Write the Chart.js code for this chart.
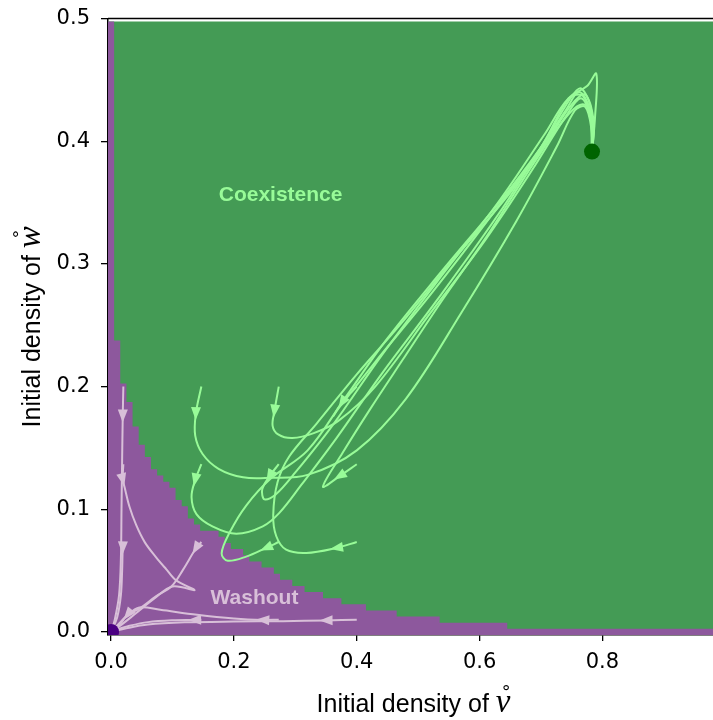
<!DOCTYPE html>
<html>
<head>
<meta charset="utf-8">
<script src="https://cdn.jsdelivr.net/npm/chart.js@4.4.1/dist/chart.umd.min.js"></script>
<style>
  html, body { margin: 0; padding: 0; background: #fff; }
</style>
</head>
<body>
<canvas id="phaseChart" width="713" height="720"></canvas>
<script>
// Axes
const vTicks = [0, 0.2, 0.4, 0.6, 0.8];
const wTicks = [0, 0.1, 0.2, 0.3, 0.4, 0.5];
const vRange = [-0.005, 0.98];
const wRange = [-0.0025, 0.5];

// Outcome grid: left edge of each washout step and its top
const meshTop = 0.4975;
const meshRight = 0.99;
const washoutEdgeV = [-0.005, 0.005, 0.015, 0.025, 0.035, 0.045, 0.055, 0.065, 0.075, 0.085, 0.095, 0.105, 0.115, 0.125, 0.135, 0.145, 0.175, 0.185, 0.195, 0.215, 0.225, 0.245, 0.265, 0.275, 0.295, 0.315, 0.345, 0.375, 0.415, 0.465, 0.535, 0.645, 0.99];
const washoutTopW = [0.4975, 0.2375, 0.2025, 0.1875, 0.1675, 0.1525, 0.1425, 0.1325, 0.1275, 0.1225, 0.1175, 0.1075, 0.1025, 0.0925, 0.0875, 0.0825, 0.0775, 0.0725, 0.0675, 0.0625, 0.0575, 0.0525, 0.0475, 0.0425, 0.0375, 0.0325, 0.0275, 0.0225, 0.0175, 0.0125, 0.0075, 0.0025, 0.0025];

// Trajectories ending in coexistence
const coexA = [[0.147,0.2],[0.138,0.178],[0.137,0.16],[0.149,0.145],[0.175,0.133],[0.215,0.126],[0.258,0.1256],[0.32,0.128],[0.4,0.148],[0.48,0.19],[0.57,0.26],[0.66,0.335],[0.725,0.395],[0.755,0.425],[0.772,0.428],[0.782,0.41],[0.783,0.3915]];
const coexB = [[0.273,0.2],[0.266,0.18],[0.263,0.168],[0.272,0.161],[0.295,0.158],[0.33,0.162],[0.37,0.172],[0.43,0.2],[0.52,0.26],[0.61,0.32],[0.69,0.38],[0.74,0.42],[0.765,0.435],[0.78,0.42],[0.783,0.3915]];
const coexH = [[0.4,0.2],[0.376,0.187],[0.362,0.176],[0.37,0.182],[0.43,0.22],[0.52,0.275],[0.62,0.34],[0.7,0.395],[0.745,0.435],[0.775,0.445],[0.79,0.455],[0.788,0.42],[0.783,0.3915]];
const coexC = [[0.147,0.1367],[0.137,0.124],[0.131,0.11],[0.139,0.096],[0.165,0.086],[0.204,0.08],[0.247,0.086],[0.274,0.097],[0.31,0.12],[0.367,0.158],[0.44,0.21],[0.53,0.27],[0.63,0.34],[0.7,0.395],[0.748,0.435],[0.765,0.443],[0.782,0.425],[0.783,0.3915]];
const coexG = [[0.273,0.1367],[0.258,0.127],[0.246,0.116],[0.25,0.108],[0.268,0.112],[0.3,0.13],[0.36,0.168],[0.44,0.225],[0.53,0.285],[0.63,0.35],[0.705,0.405],[0.745,0.435],[0.768,0.437],[0.781,0.418],[0.783,0.3915]];
const coexD = [[0.4,0.1367],[0.372,0.127],[0.345,0.1185],[0.377,0.146],[0.421,0.181],[0.475,0.222],[0.54,0.271],[0.611,0.322],[0.692,0.385],[0.745,0.422],[0.77,0.43],[0.784,0.415],[0.783,0.3915]];
const coexF = [[0.273,0.0733],[0.2525,0.0685],[0.22,0.0614],[0.19,0.058],[0.18,0.064],[0.193,0.081],[0.22,0.103],[0.26,0.125],[0.32,0.148],[0.38,0.19],[0.448,0.238],[0.54,0.295],[0.635,0.352],[0.7,0.395],[0.74,0.425],[0.762,0.44],[0.78,0.425],[0.783,0.3915]];
const coexE = [[0.4,0.0733],[0.367,0.0685],[0.318,0.0644],[0.285,0.067],[0.269,0.078],[0.264,0.095],[0.271,0.122],[0.29,0.143],[0.335,0.17],[0.4,0.21],[0.47,0.25],[0.56,0.305],[0.645,0.355],[0.71,0.4],[0.75,0.43],[0.772,0.438],[0.786,0.415],[0.783,0.3915]];

// Trajectories ending in washout
const washA = [[0.02,0.2],[0.019,0.176],[0.018,0.14],[0.017,0.1],[0.016,0.06],[0.013,0.03],[0.006,0.01],[0,0]];
const washB = [[0.02,0.1367],[0.019,0.124],[0.022,0.118],[0.03,0.102],[0.041,0.087],[0.055,0.073],[0.073,0.061],[0.09,0.051],[0.106,0.042],[0.136,0.034],[0.1,0.037],[0.07,0.027],[0.04,0.015],[0.012,0.004],[0,0]];
const washC = [[0.02,0.0733],[0.019,0.0685],[0.018,0.05],[0.016,0.03],[0.01,0.012],[0,0]];
const washD = [[0.02,0.01],[0.012,0.006],[0,0]];
const washE = [[0.147,0.0733],[0.138,0.068],[0.117,0.0506],[0.098,0.037],[0.073,0.029],[0.046,0.019],[0.027,0.014],[0.0135,0.0057],[0,0]];
const washF = [[0.147,0.01],[0.136,0.0098],[0.1,0.0095],[0.06,0.008],[0.03,0.005],[0.01,0.002],[0,0]];
const washG = [[0.273,0.01],[0.247,0.0098],[0.2,0.011],[0.14,0.014],[0.08,0.018],[0.046,0.02],[0.025,0.013],[0.008,0.004],[0,0]];
const washH = [[0.4,0.01],[0.35,0.0094],[0.28,0.0088],[0.2,0.0085],[0.12,0.0078],[0.06,0.006],[0.025,0.003],[0,0]];

// Steady states
const coexPoint = [0.783, 0.3915];
const washPoint = [0, 0];

// Region labels
const regionNames = ['Coexistence', 'Washout'];
const regionV = [0.276, 0.2335];
const regionW = [0.356, 0.0277];

const GREEN_BG = '#449b55';
const PURPLE_BG = '#8d589d';
const GREEN_LINE = '#98fb98';
const PINK_LINE = '#d8bfd8';

const toXY = path => path.map(p => ({ x: p[0], y: p[1] }));

function pathDataset(path, color, arrowAt) {
  return {
    data: toXY(path), borderColor: color, borderWidth: 2, tension: 0.35,
    pointRadius: 0, fill: false, order: 5, arrowAt: arrowAt
  };
}

const datasets = [
  { data: [{ x: vRange[0], y: meshTop }, { x: meshRight, y: meshTop }], borderWidth: 0,
    backgroundColor: GREEN_BG, fill: 'start', pointRadius: 0, order: 20 },
  { data: washoutEdgeV.map((v, i) => ({ x: v, y: washoutTopW[i] })), stepped: true, borderWidth: 0,
    backgroundColor: PURPLE_BG, fill: 'start', pointRadius: 0, order: 10 },
  pathDataset(coexA, GREEN_LINE, [1]),
  pathDataset(coexB, GREEN_LINE, [1]),
  pathDataset(coexH, GREEN_LINE, [1]),
  pathDataset(coexC, GREEN_LINE, [1]),
  pathDataset(coexG, GREEN_LINE, [1]),
  pathDataset(coexD, GREEN_LINE, [1]),
  pathDataset(coexF, GREEN_LINE, [1]),
  pathDataset(coexE, GREEN_LINE, [1]),
  pathDataset(washA, PINK_LINE, [1]),
  pathDataset(washB, PINK_LINE, [1]),
  pathDataset(washC, PINK_LINE, [1]),
  pathDataset(washD, PINK_LINE, []),
  pathDataset(washE, PINK_LINE, [1, 6]),
  pathDataset(washF, PINK_LINE, [1]),
  pathDataset(washG, PINK_LINE, [1]),
  pathDataset(washH, PINK_LINE, [1]),
  { data: [{ x: coexPoint[0], y: coexPoint[1] }], showLine: false, pointRadius: 8,
    pointBackgroundColor: '#006400', pointBorderWidth: 0, order: 0, clip: 0 },
  { data: [{ x: washPoint[0], y: washPoint[1] }], showLine: false, pointRadius: 8,
    pointBackgroundColor: '#4b0082', pointBorderWidth: 0, order: 0, clip: 0 }
];

// Arrow heads along trajectories
const arrowHeads = {
  id: 'arrowHeads',
  afterDatasetsDraw(chart) {
    const ctx = chart.ctx, xs = chart.scales.x, ys = chart.scales.y;
    chart.data.datasets.forEach(ds => {
      (ds.arrowAt || []).forEach(i => {
        const p = ds.data[i], q = ds.data[i + 1];
        const px = xs.getPixelForValue(p.x), py = ys.getPixelForValue(p.y);
        const a = Math.atan2(ys.getPixelForValue(q.y) - py, xs.getPixelForValue(q.x) - px);
        ctx.save();
        ctx.translate(px, py);
        ctx.rotate(a);
        ctx.fillStyle = ds.borderColor;
        ctx.beginPath();
        ctx.moveTo(6.5, 0);
        ctx.lineTo(-6.5, -5);
        ctx.lineTo(-6.5, 5);
        ctx.closePath();
        ctx.fill();
        ctx.restore();
      });
    });
  }
};

const regionText = {
  id: 'regionText',
  afterDatasetsDraw(chart) {
    const ctx = chart.ctx, xs = chart.scales.x, ys = chart.scales.y;
    const colors = [GREEN_LINE, PINK_LINE];
    ctx.save();
    ctx.font = 'bold 21px "Liberation Sans"';
    ctx.textAlign = 'center';
    ctx.textBaseline = 'middle';
    regionNames.forEach((t, i) => {
      ctx.fillStyle = colors[i];
      ctx.fillText(t, xs.getPixelForValue(regionV[i]), ys.getPixelForValue(regionW[i]));
    });
    ctx.restore();
  }
};

function drawTitle(ctx, text, sym, cx, cy, rotate) {
  ctx.save();
  ctx.translate(cx, cy);
  if (rotate) ctx.rotate(-Math.PI / 2);
  ctx.fillStyle = '#000';
  ctx.textBaseline = 'alphabetic';
  ctx.textAlign = 'left';
  const sans = '25px "Liberation Sans"', serif = 'italic 33px "Liberation Serif"';
  ctx.font = sans;
  const w1 = ctx.measureText(text + ' ').width;
  ctx.font = serif;
  const w2 = ctx.measureText(sym).width;
  const x0 = -(w1 + w2) / 2;
  ctx.font = sans;
  ctx.fillText(text + ' ', x0, 0);
  ctx.font = serif;
  ctx.fillText(sym, x0 + w1, 0);
  ctx.font = '28px "Liberation Serif"';
  ctx.textAlign = 'center';
  ctx.fillText('\u02DA', x0 + w1 + w2 / 2 + 3, -7);
  ctx.restore();
}

const frame = {
  id: 'frame',
  afterDraw(chart) {
    const ctx = chart.ctx, a = chart.chartArea;
    ctx.save();
    ctx.strokeStyle = '#000';
    ctx.lineWidth = 1.5;
    ctx.beginPath();
    ctx.moveTo(a.left, a.top);
    ctx.lineTo(a.right, a.top);
    ctx.stroke();
    ctx.restore();
    drawTitle(ctx, 'Initial density of', 'v', (a.left + a.right) / 2 + 3, 711.5, false);
    drawTitle(ctx, 'Initial density of', 'w', 40, (a.top + a.bottom) / 2, true);
  }
};

const noPad = s => { s.paddingLeft = 0; s.paddingRight = 0; s.paddingTop = 0; s.paddingBottom = 0; };
const tickFont = { family: 'DejaVu Sans', size: 21 };

new Chart(document.getElementById('phaseChart'), {
  type: 'line',
  data: { datasets },
  options: {
    responsive: false,
    animation: false,
    devicePixelRatio: 1,
    layout: { autoPadding: false, padding: { top: 18.5, right: 0, bottom: 0, left: 0 } },
    plugins: { legend: { display: false }, tooltip: { enabled: false } },
    scales: {
      x: {
        type: 'linear', min: vRange[0], max: vRange[1],
        afterBuildTicks: s => { s.ticks = vTicks.map(v => ({ value: v })); },
        afterFit: s => { s.height = 85; noPad(s); },
        ticks: { font: tickFont, color: '#000', padding: 9, maxRotation: 0, autoSkip: false,
          callback: v => v.toFixed(1) },
        grid: { drawOnChartArea: false, drawTicks: true, tickLength: 6, color: '#000', lineWidth: 1.3 },
        border: { display: true, color: '#000', width: 1.5 }
      },
      y: {
        type: 'linear', min: wRange[0], max: wRange[1],
        afterBuildTicks: s => { s.ticks = wTicks.map(v => ({ value: v })); },
        afterFit: s => { s.width = 108; noPad(s); },
        ticks: { font: tickFont, color: '#000', padding: 11, autoSkip: false,
          callback: v => v.toFixed(1) },
        grid: { drawOnChartArea: false, drawTicks: true, tickLength: 7, color: '#000', lineWidth: 1.3 },
        border: { display: true, color: '#000', width: 1.5 }
      }
    }
  },
  plugins: [arrowHeads, regionText, frame]
});
</script>
</body>
</html>
